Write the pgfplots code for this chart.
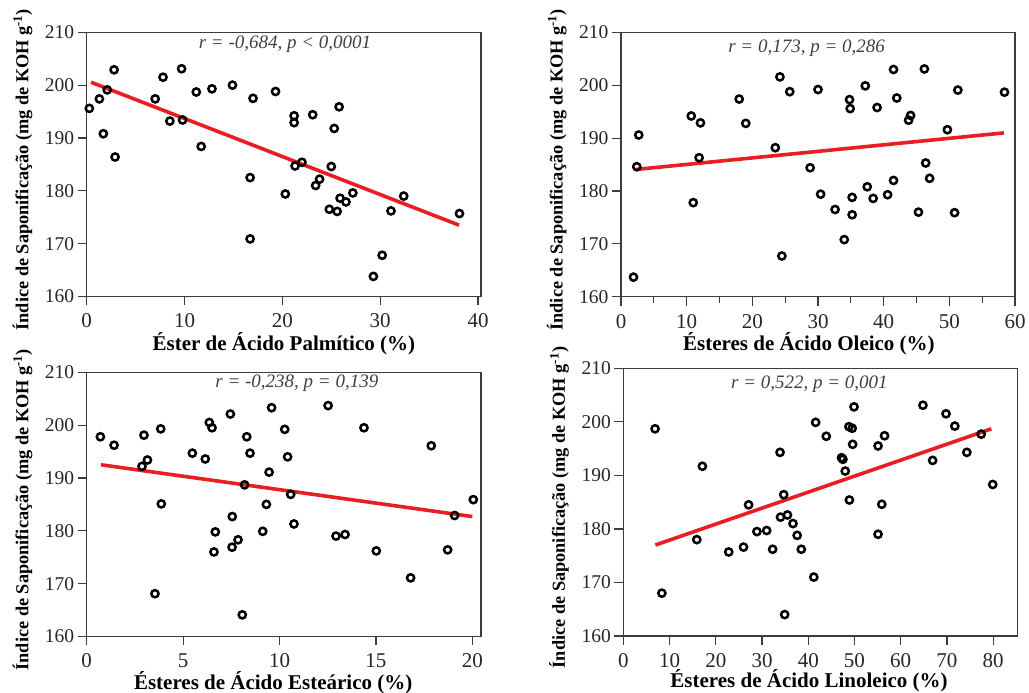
\documentclass[border=0pt]{standalone}
\usepackage{pgfplots}
\pgfplotsset{compat=1.18}
\usepackage{fontspec}
\setmainfont{Liberation Serif}
\definecolor{regred}{RGB}{232,30,36}
\definecolor{axgray}{RGB}{60,60,60}
\tikzset{note/.style={font=\fontsize{19}{21}\selectfont\itshape, text=black!75, anchor=center}}
\pgfplotsset{
  panel/.style={
    scale only axis,
    clip=false,
    xmin=0, ymin=160, ymax=210,
    ytick={160,170,...,210},
    tick pos=left,
    tick align=outside,
    major tick length=9pt,
    minor tick length=6pt,
    axis line style={axgray, line width=1.3pt},
    every tick/.style={axgray, line width=1.2pt},
    /pgf/number format/assume math mode=true,
    /pgf/number format/1000 sep={},
    xticklabel={\fontsize{21}{23}\selectfont\color{black!85}\pgfmathprintnumber{\tick}},
    yticklabel={\fontsize{19.5}{21}\selectfont\color{black!85}\pgfmathprintnumber{\tick}},
    every x tick label/.append style={yshift=-5pt},
    xlabel style={font=\fontsize{21}{23}\selectfont\bfseries, anchor=center},
    ylabel style={font=\fontsize{18.3}{20}\selectfont\bfseries, anchor=center, at={(axis description cs:-0.163,0.48)}},
    ylabel={Índice de Saponificação (mg de KOH g\textsuperscript{-1})},
  },
  pts/.style={only marks, mark=o, mark size=3.6pt, line width=2.5pt, black, mark options={line width=2.5pt, black}},
  reg/.style={no marks, regred, line width=3.6pt},
}
\begin{document}
\begin{tikzpicture}
\path[use as bounding box] (0,0) rectangle (1029pt,693pt);

% Panel 1
\begin{axis}[panel, at={(86.7pt,396.5pt)}, anchor=south west, width=394.3pt, height=264.2pt,
  xmax=40.3, xtick={0,10,...,40},
  xlabel={Éster de Ácido Palmítico (\%)},
  xlabel style={at={(axis description cs:0.5,-0.178)}}]
\addplot[pts] coordinates {
(0.27,195.6) (1.3,197.4) (1.7,190.8) (2.1,199.1) (2.8,202.9) (2.9,186.4)
(7.0,197.4) (7.8,201.5) (8.5,193.2) (9.7,203.1) (9.8,193.4) (11.2,198.7)
(11.7,188.4) (12.8,199.3) (14.9,200.0) (16.7,182.5) (17.0,197.5) (16.7,170.9)
(19.3,198.8) (20.3,179.4) (21.2,194.2) (21.2,192.9) (21.3,184.7) (22.0,185.4)
(23.1,194.4) (23.4,181.0) (23.8,182.2) (24.8,176.5) (25.0,184.6) (25.3,191.8)
(25.6,176.1) (25.8,195.9) (25.9,178.6) (26.5,177.9) (27.2,179.6) (29.3,163.8)
(30.2,167.8) (31.1,176.2) (32.4,179.0) (38.1,175.7)};
\addplot[reg] coordinates {(0.44,200.55) (38.06,173.5)};
\node[note] at (axis description cs:0.503,0.956) {r = -0,684, p < 0,0001};
\end{axis}

% Panel 2
\begin{axis}[panel, at={(621pt,396.3pt)}, anchor=south west, width=394pt, height=264.2pt,
  xmax=60, xtick={0,10,...,60}, minor x tick num=1,
  xlabel={Ésteres de Ácido Oleico (\%)},
  xlabel style={at={(axis description cs:0.477,-0.178)}}]
\addplot[pts] coordinates {
(1.9,163.7) (2.4,184.6) (2.7,190.6) (10.7,194.2) (11.0,177.8) (11.9,186.3)
(12.1,192.9) (18.0,197.4) (19.0,192.8) (23.5,188.2) (24.2,201.6) (24.5,167.7)
(25.7,198.8) (28.8,184.4) (30.0,199.2) (30.4,179.4) (32.6,176.5) (34.0,170.8)
(34.8,197.3) (34.9,195.6) (35.2,178.8) (35.2,175.5) (37.2,199.9) (37.5,180.8)
(38.4,178.6) (39.0,195.8) (40.6,179.3) (41.5,203.0) (41.5,182.0) (42.0,197.6)
(43.8,193.4) (44.1,194.3) (45.3,176.0) (46.2,203.1) (46.4,185.3) (47.0,182.4)
(49.7,191.6) (50.8,175.9) (51.3,199.1) (58.4,198.7)};
\addplot[reg] coordinates {(2.05,184.05) (58.3,191.0)};
\node[note] at (axis description cs:0.471,0.94) {r = 0,173, p = 0,286};
\end{axis}

% Panel 3
\begin{axis}[panel, at={(86.7pt,56.5pt)}, anchor=south west, width=394.3pt, height=264.2pt,
  xmax=20.45, xtick={0,5,...,20},
  xlabel={Ésteres de Ácido Esteárico (\%)},
  xlabel style={at={(axis description cs:0.473,-0.176)}}]
\addplot[pts] coordinates {
(0.71,197.8) (1.42,196.2) (2.87,192.2) (2.97,198.1) (3.15,193.4) (3.84,199.3)
(3.87,185.1) (3.54,168.1) (5.48,194.7) (6.15,193.6) (6.36,200.5) (6.50,199.5)
(6.60,176.0) (6.67,179.8) (7.45,202.1) (7.55,182.7) (7.54,176.9) (7.85,178.3)
(8.07,164.1) (8.19,188.7) (8.30,197.8) (8.47,194.7) (9.13,179.9) (9.32,185.0)
(9.46,191.1) (9.59,203.3) (10.27,199.2) (10.42,194.0) (10.58,186.9) (10.75,181.3)
(12.52,203.7) (12.93,179.0) (13.40,179.3) (14.38,199.5) (15.02,176.2) (16.80,171.1)
(17.87,196.1) (18.72,176.4) (19.08,182.9) (20.05,185.9)};
\addplot[reg] coordinates {(0.74,192.5) (20.0,182.7)};
\node[note] at (axis description cs:0.533,0.958) {r = -0,238, p = 0,139};
\end{axis}

% Panel 4
\begin{axis}[panel, at={(623.3pt,57pt)}, anchor=south west, width=394.4pt, height=267.7pt,
  xmax=85.3, xtick={0,10,...,80},
  xlabel={Ésteres de Ácido Linoleico (\%)},
  xlabel style={at={(axis description cs:0.471,-0.168)}}]
\addplot[pts] coordinates {
(6.87,198.7) (8.34,168.0) (15.9,178.0) (17.1,191.7) (22.8,175.7) (26.0,176.6)
(27.1,184.5) (28.9,179.5) (31.0,179.7) (32.3,176.2) (33.9,194.3) (34.0,182.2)
(34.7,186.4) (34.9,164.0) (35.5,182.6) (36.7,181.0) (37.6,178.8) (38.5,176.2)
(41.2,171.0) (41.6,199.9) (43.9,197.3) (47.2,193.3) (47.5,193.0) (48.0,190.8)
(48.8,199.1) (48.9,185.4) (49.5,198.8) (49.6,195.8) (49.9,202.8) (55.1,195.5)
(55.1,179.0) (55.9,184.6) (56.5,197.4) (64.8,203.1) (66.9,192.8) (69.8,201.5)
(71.7,199.2) (74.3,194.3) (77.4,197.7) (79.9,188.3)};
\addplot[reg] coordinates {(6.95,177.0) (79.6,198.7)};
\node[note] at (axis description cs:0.472,0.941) {r = 0,522, p = 0,001};
\end{axis}
\end{tikzpicture}
\end{document}
